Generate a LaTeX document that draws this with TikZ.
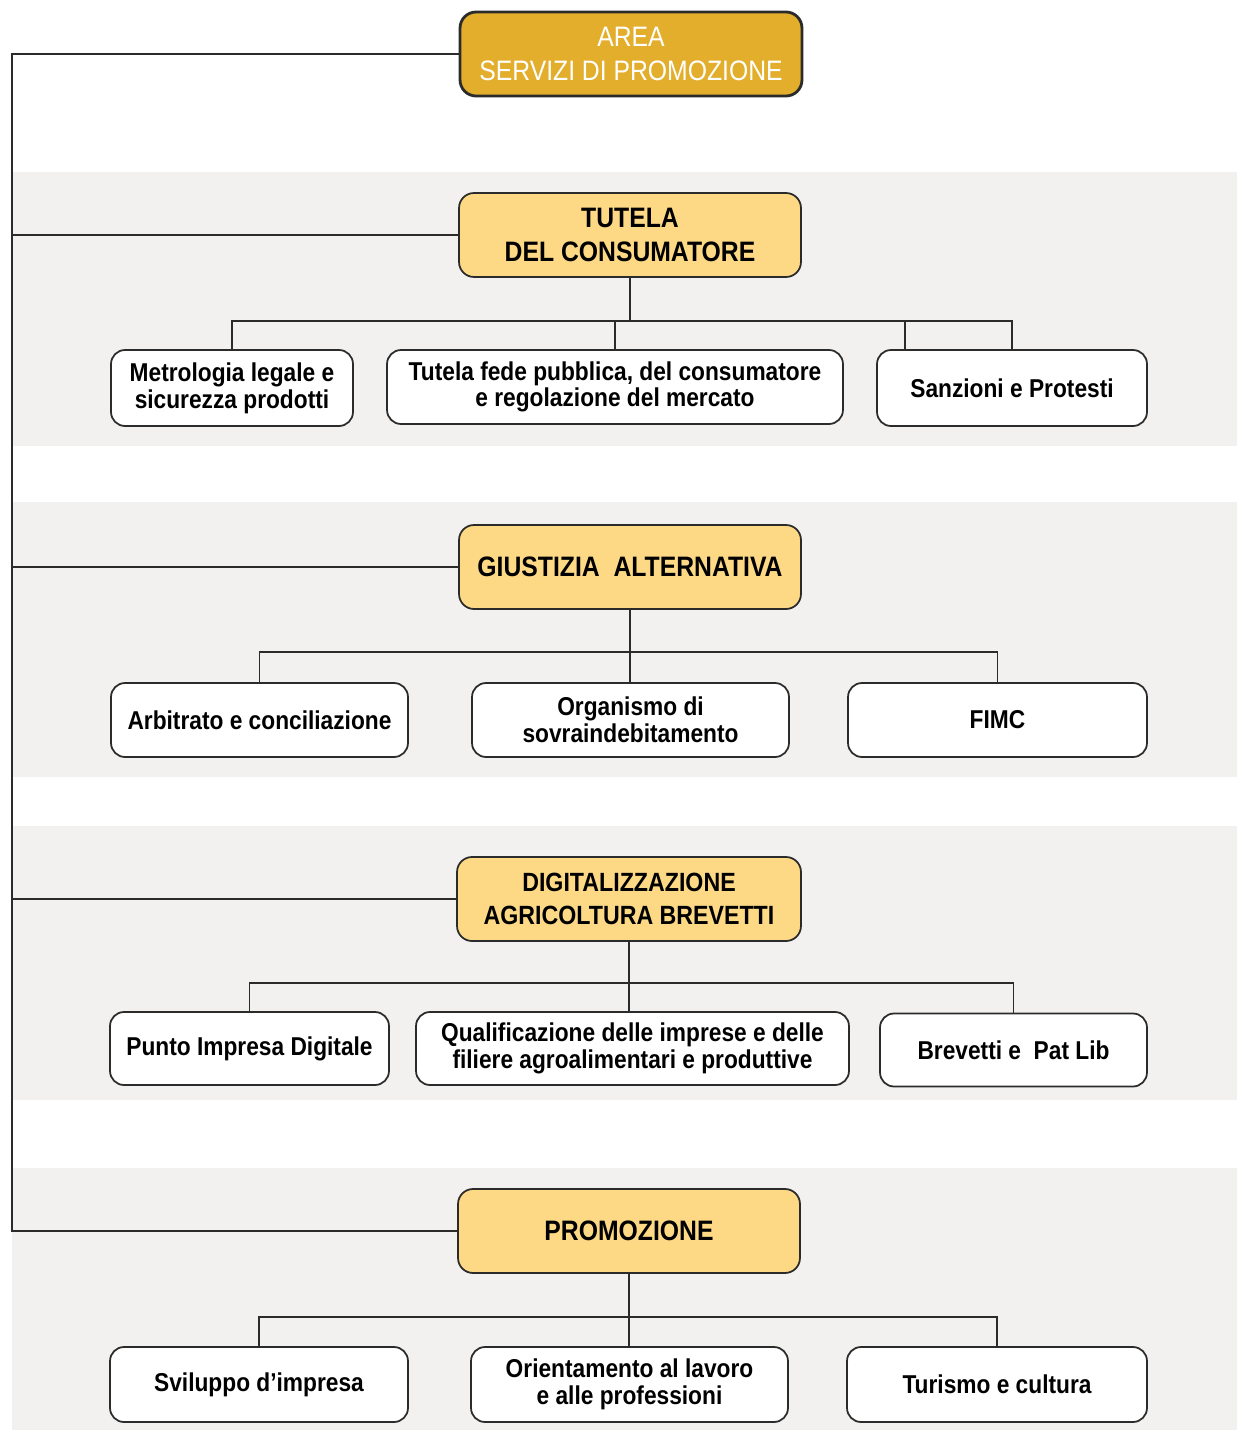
\documentclass[tikz,border=0pt]{standalone}
\usepackage{fontspec}
\setmainfont{Liberation Sans}[FakeStretch=0.88]
\usepackage{tikz}
\usetikzlibrary{positioning}
\definecolor{areagold}{HTML}{E2AE2C}
\definecolor{headgold}{HTML}{FDD985}
\definecolor{bandgray}{HTML}{F2F1F0}
\definecolor{linegray}{HTML}{2B2B2B}
\tikzset{
  areabox/.style={draw=linegray,line width=1.6pt,fill=areagold,rounded corners=0.32cm,
    text=white,align=center,font=\fontsize{16}{19}\selectfont,
    minimum width=6.84cm,minimum height=1.68cm},
  headbox/.style={draw=linegray,line width=1pt,fill=headgold,rounded corners=0.3cm,
    align=center,font=\bfseries\fontsize{16}{19}\selectfont,
    minimum width=6.84cm,minimum height=1.68cm},
  subbox/.style={draw=linegray,line width=1pt,fill=white,rounded corners=0.28cm,
    align=center,font=\bfseries\fontsize{14.7}{15.2}\selectfont,inner sep=0pt},
  wire/.style={draw=linegray,line width=1pt},
  trunkline/.style={draw=linegray,line width=1.4pt},
  band/.style={fill=bandgray}
}

\begin{document}
\begin{tikzpicture}[x=0.02cm,y=-0.02cm]
  \useasboundingbox (0,0) rectangle (1237,1430);

  % grey bands behind the sections
  \fill[band] (12,172) rectangle (1237,446);
  \fill[band] (12,502) rectangle (1237,777);
  \fill[band] (12,826) rectangle (1237,1100);
  \fill[band] (12,1168) rectangle (1237,1430);

  % area and section heads
  \node[areabox] (area) at (631,54) {AREA\\SERVIZI DI PROMOZIONE};
  \node[headbox] (tutela) at (630,235) {TUTELA\\DEL CONSUMATORE};
  \node[headbox] (giustizia) at (630,567) {GIUSTIZIA\ \ ALTERNATIVA};
  \node[headbox,minimum width=6.88cm,font=\bfseries\fontsize{15}{18.5}\selectfont] (digital) at (629,899) {DIGITALIZZAZIONE\\AGRICOLTURA BREVETTI};
  \node[headbox] (promo) at (629,1231) {PROMOZIONE};

  % offices
  \node[subbox,minimum width=4.84cm,minimum height=1.52cm] (metro) at (232,388) {Metrologia legale e\\sicurezza prodotti};
  \node[subbox,minimum width=9.12cm,minimum height=1.48cm] (fede) at (615,387) {Tutela fede pubblica, del consumatore\\e regolazione del mercato};
  \node[subbox,minimum width=5.4cm,minimum height=1.52cm] (sanz) at (1012,388) {Sanzioni e Protesti};

  \node[subbox,minimum width=5.94cm,minimum height=1.48cm] (arbit) at (259.5,720) {Arbitrato e conciliazione};
  \node[subbox,minimum width=6.34cm,minimum height=1.48cm] (sovra) at (630.5,720) {Organismo di\\sovraindebitamento};
  \node[subbox,minimum width=5.98cm,minimum height=1.48cm] (fimc) at (997.5,720) {FIMC};

  \node[subbox,minimum width=5.58cm,minimum height=1.46cm] (pid) at (249.5,1048.5) {Punto Impresa Digitale};
  \node[subbox,minimum width=8.66cm,minimum height=1.46cm] (quali) at (632.5,1048.5) {Qualificazione delle imprese e delle\\filiere agroalimentari e produttive};
  \node[subbox,minimum width=5.34cm,minimum height=1.46cm] (brev) at (1013.5,1050) {Brevetti e\ \ Pat Lib};

  \node[subbox,minimum width=5.96cm,minimum height=1.5cm] (svil) at (259,1384.5) {Sviluppo d’impresa};
  \node[subbox,minimum width=6.34cm,minimum height=1.5cm] (orient) at (629.5,1384.5) {Orientamento al lavoro\\e alle professioni};
  \node[subbox,minimum width=6.0cm,minimum height=1.5cm] (tur) at (997,1384.5) {Turismo e cultura};

  % trunk on the left
  \coordinate (trunk) at (12,0);
  \draw[trunkline] (area.west) -- (area.west -| trunk) -- (promo.west -| trunk) -- (promo.west);
  \foreach \h in {tutela,giustizia,digital}
    \draw[trunkline] (\h.west) -- (\h.west -| trunk);

  % tutela del consumatore
  \coordinate (j1) at (630,321);
  \draw[wire] (tutela.south) -- (j1);
  \draw[wire] (metro.north) |- (j1) -| (sanz.north);
  \draw[wire] (fede.north) -- (fede.north |- j1);
  \draw[wire] ([xshift=-2.14cm]sanz.north) -- ([xshift=-2.14cm]sanz.north |- j1);

  % giustizia alternativa
  \coordinate (j2) at (630,652);
  \draw[wire] (giustizia.south) -- (j2) -- (j2 |- sovra.north);
  \draw[wire] (arbit.north) |- (j2) -| (fimc.north);

  % digitalizzazione
  \coordinate (j3) at (629,983);
  \draw[wire] (digital.south) -- (j3) -- (j3 |- quali.north);
  \draw[wire] (pid.north) |- (j3) -| (brev.north);

  % promozione
  \coordinate (j4) at (629,1317);
  \draw[wire] (promo.south) -- (j4) -- (j4 |- orient.north);
  \draw[wire] (svil.north) |- (j4) -| (tur.north);
\end{tikzpicture}
\end{document}
